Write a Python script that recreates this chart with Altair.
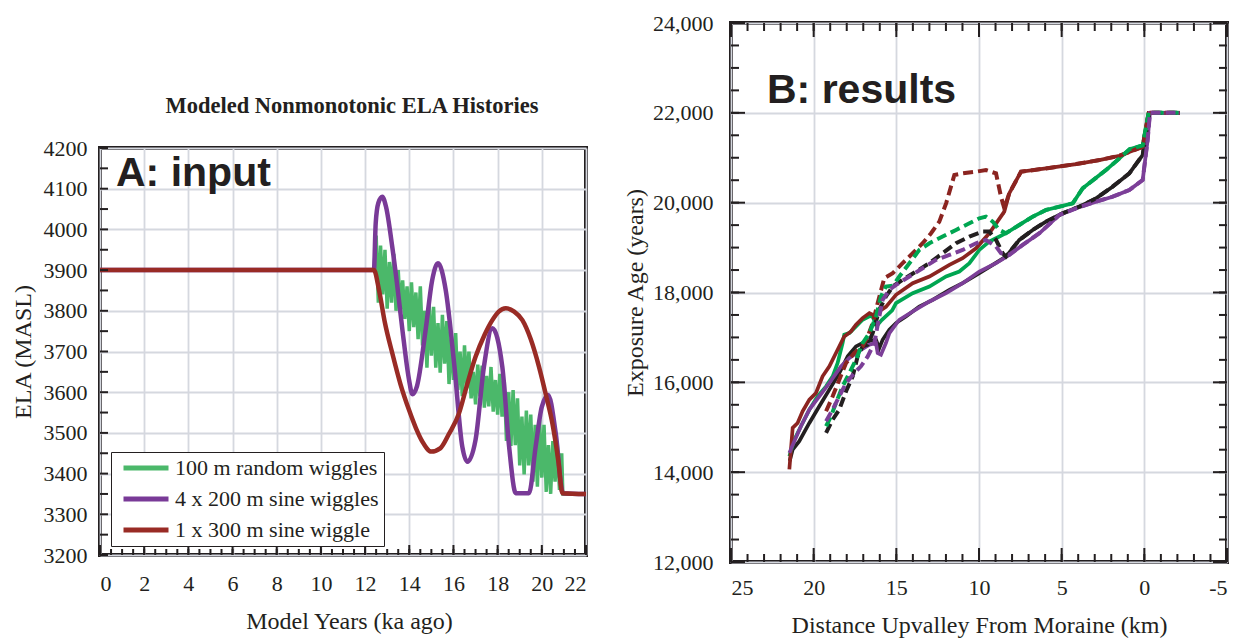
import altair as alt
import pandas as pd

# ---------------- Panel A : input ELA histories ----------------
A_TITLE = "Modeled Nonmonotonic ELA Histories"
A_LABEL = "A: input"
A_SERIES = ["100 m random wiggles", "4 x 200 m sine wiggles", "1 x 300 m sine wiggle"]
A_COLORS = ["#4bb86a", "#793a97", "#992b25"]
A_X_TICKS = [0, 2, 4, 6, 8, 10, 12, 14, 16, 18, 20, 22]
A_Y_TICKS = [3200, 3300, 3400, 3500, 3600, 3700, 3800, 3900, 4000, 4100, 4200]
A_X_MINOR = [i * 0.5 for i in range(45)]
A_Y_MINOR = [3200 + i * 50 for i in range(21)]

A_GREEN_X = [0, 12.4, 12.5, 12.6, 12.7, 12.8, 12.9, 13.0, 13.1, 13.2, 13.3, 13.4, 13.5, 13.6,
             13.7, 13.8, 13.9, 14.0, 14.1, 14.2, 14.3, 14.4, 14.5, 14.6, 14.7, 14.8, 14.9,
             15.0, 15.1, 15.2, 15.3, 15.4, 15.5, 15.6, 15.7, 15.8, 15.9, 16.0, 16.1, 16.2,
             16.3, 16.4, 16.5, 16.6, 16.7, 16.8, 16.9, 17.0, 17.1, 17.2, 17.3, 17.4, 17.5,
             17.6, 17.7, 17.8, 17.9, 18.0, 18.1, 18.2, 18.3, 18.4, 18.5, 18.6, 18.7, 18.8,
             18.9, 19.0, 19.1, 19.2, 19.3, 19.4, 19.5, 19.6, 19.7, 19.8, 19.9, 20.0, 20.1,
             20.2, 20.3, 20.4, 20.5, 20.6, 20.7, 20.8, 20.9, 20.95, 22]
A_GREEN_Y = [3900, 3900, 3985, 3820, 3960, 3840, 3950, 3805, 3920, 3820, 3940, 3800, 3900, 3795,
             3875, 3780, 3860, 3750, 3870, 3760, 3845, 3730, 3860, 3715, 3800, 3660, 3815,
             3690, 3810, 3660, 3770, 3648, 3790, 3670, 3775, 3620, 3740, 3630, 3745, 3605,
             3700, 3590, 3715, 3610, 3700, 3585, 3650, 3570, 3668, 3590, 3665, 3562, 3640,
             3565, 3662, 3552, 3630, 3545, 3645, 3540, 3630, 3480, 3600, 3468, 3605, 3470,
             3585, 3420, 3540, 3398, 3555, 3420, 3545, 3380, 3520, 3368, 3532, 3390, 3520,
             3355, 3470, 3350, 3480, 3380, 3470, 3360, 3450, 3350, 3350]

A_PURPLE_X = [0, 12.4, 12.48, 12.6, 12.78, 12.95, 13.23, 13.46, 13.69, 13.99, 14.14, 14.35,
              14.74, 15.04, 15.3, 15.65, 16.03, 16.4, 16.63, 17.0, 17.38, 17.76, 18.21, 18.52,
              18.82, 19.42, 19.72, 20.0, 20.29, 20.63, 20.96, 22]
A_PURPLE_Y = [3900, 3900, 4015, 4065, 4080, 4055, 3957, 3860, 3753, 3630, 3595, 3615,
              3753, 3876, 3917, 3851, 3671, 3466, 3429, 3483, 3663, 3757, 3663, 3466,
              3352, 3352, 3466, 3564, 3593, 3499, 3352, 3350]

A_RED_X = [0, 12.4, 12.63, 12.9, 13.23, 13.6, 13.99, 14.3, 14.6, 15.0, 15.4, 15.8, 16.25,
           16.6, 17.0, 17.4, 17.76, 18.05, 18.37, 18.75, 19.12, 19.5, 19.87, 20.2, 20.48,
           20.75, 20.93, 22]
A_RED_Y = [3900, 3900, 3851, 3770, 3696, 3620, 3556, 3512, 3478, 3454, 3462, 3498, 3548,
           3615, 3687, 3740, 3777, 3798, 3806, 3798, 3777, 3730, 3663, 3590, 3523,
           3430, 3352, 3350]

# ---------------- Panel B : results ----------------
B_LABEL = "B: results"
B_X_TICKS = [25, 20, 15, 10, 5, 0, -5]
B_Y_TICKS = [12000, 14000, 16000, 18000, 20000, 22000, 24000]
B_X_MINOR = list(range(-5, 26))
B_Y_MINOR = [12000 + i * 500 for i in range(25)]

B_RED_X = [21.47, 21.27, 20.97, 20.67, 20.26, 19.86, 19.46, 19.05, 18.65, 18.15, 17.74, 17.44,
           17.04, 16.63, 16.35, 16.05, 15.63, 15.02, 14.01, 13.0, 11.79, 10.99, 10.18, 9.38,
           8.47, 8.17, 7.46, 5.95, 4.13, 2.72, 1.51, 0.1, -0.26, -2.15]
B_RED_Y = [14060, 14986, 15096, 15356, 15615, 15763, 16134, 16356, 16652, 17022, 17134, 17282,
           17430, 17541, 17490, 17580, 17680, 17948, 18207, 18356, 18615, 18763, 18985, 19319,
           19800, 20207, 20689, 20763, 20859, 20948, 21044, 21244, 22000, 22000]

B_GREEN_X = [21.47, 21.17, 20.77, 20.26, 19.76, 19.25, 18.85, 18.55, 18.25, 18.15, 17.84, 17.44,
             17.04, 16.63, 16.45, 16.2, 15.9, 15.25, 15.02, 14.01, 13.0, 11.99, 11.19, 10.58,
             9.98, 9.38, 8.97, 8.37, 7.56, 6.75, 5.95, 4.33, 3.73, 2.32, 1.51, 0.88, 0.1,
             -0.26, -2.15]
B_GREEN_Y = [14356, 14726, 15022, 15393, 15689, 15911, 16134, 16430, 16874, 17059, 17096, 17245,
             17393, 17467, 17480, 17250, 17380, 17600, 17763, 17985, 18133, 18356, 18467, 18652,
             18948, 19133, 19207, 19319, 19504, 19689, 19837, 19985, 20319, 20726, 20985, 21192,
             21277, 22000, 22000]

B_BLACK_X = [21.45, 21.27, 20.87, 20.26, 19.66, 19.05, 18.45, 17.94, 17.44, 17.04, 16.5, 16.23,
             16.03, 15.83, 15.42, 15.02, 14.42, 13.61, 12.8, 11.79, 10.99, 9.98, 9.17, 8.37,
             7.56, 6.75, 5.95, 4.94, 3.93, 2.92, 1.92, 0.91, 0.1, -0.3, -2.15]
B_BLACK_Y = [14250, 14504, 14689, 15096, 15467, 15837, 16208, 16578, 16800, 16874, 16930, 16948,
             16763, 16948, 17170, 17319, 17467, 17689, 17837, 18059, 18207, 18430, 18615, 18800,
             19170, 19393, 19578, 19763, 19911, 20096, 20356, 20652, 21059, 22000, 22000]

B_PURPLE_X = [21.47, 21.17, 20.77, 20.26, 19.66, 19.05, 18.35, 17.84, 17.24, 16.63, 16.23, 16.13,
              15.93, 15.63, 15.42, 14.82, 14.01, 13.0, 11.99, 10.99, 9.98, 8.97, 8.17, 7.36,
              6.35, 5.14, 4.13, 2.92, 1.92, 0.91, 0.1, -0.2, -0.34, -2.15]
B_PURPLE_Y = [14430, 14689, 15022, 15393, 15689, 15985, 16356, 16541, 16700, 16837, 16874, 16652,
              16615, 16874, 17096, 17393, 17578, 17800, 17985, 18207, 18467, 18652, 18837, 19059,
              19319, 19726, 19874, 20022, 20133, 20282, 20504, 21393, 22000, 22000]

B_RED_D_X = [19.25, 18.85, 18.45, 18.04, 17.54, 17.04, 16.73, 16.43, 16.13, 15.73, 15.22, 14.62,
             14.01, 13.41, 12.9, 12.4, 11.99, 11.49, 10.99, 10.18, 9.58, 8.97, 8.67, 8.47,
             8.17, 7.46, 5.95, 4.13, 2.72, 1.51, 0.1, -0.26, -2.15]
B_RED_D_Y = [15356, 15689, 16059, 16430, 16652, 16800, 17022, 17319, 17763, 18319, 18430, 18652,
             18874, 19096, 19319, 19578, 19985, 20615, 20652, 20689, 20726, 20652, 20133, 19874,
             20207, 20689, 20763, 20859, 20948, 21044, 21244, 22000, 22000]

B_GREEN_D_X = [19.25, 18.95, 18.65, 18.25, 17.84, 17.44, 17.04, 16.63, 16.23, 15.93, 15.63, 15.22,
               14.82, 14.21, 13.61, 13.0, 12.2, 11.39, 10.58, 9.98, 9.58, 9.17, 8.77, 8.37,
               7.56, 6.75, 5.95, 4.33, 3.73, 2.32, 1.51, 0.88, 0.1, -0.26, -2.15]
B_GREEN_D_Y = [15022, 15245, 15541, 15911, 16208, 16504, 16874, 17096, 17467, 17911, 18133, 18148,
               18356, 18652, 18948, 19096, 19245, 19393, 19541, 19652, 19689, 19578, 19393, 19319,
               19504, 19689, 19837, 19985, 20319, 20726, 20985, 21192, 21277, 22000, 22000]

B_BLACK_D_X = [19.25, 18.85, 18.45, 18.04, 17.64, 17.34, 17.04, 16.73, 16.43, 16.03, 15.63, 15.22,
               14.62, 13.81, 13.0, 12.2, 11.39, 10.58, 9.78, 9.38, 8.97, 8.57, 8.37, 7.56, 6.75,
               5.95, 4.94, 3.93, 2.92, 1.92, 0.91, 0.1, -0.3, -2.15]
B_BLACK_D_Y = [14874, 15170, 15393, 15800, 16134, 16578, 16800, 16837, 17096, 17615, 17911, 18133,
               18282, 18467, 18652, 18874, 19096, 19245, 19356, 19356, 19170, 18874, 18800, 19170,
               19393, 19578, 19763, 19911, 20096, 20356, 20652, 21059, 22000, 22000]

B_PURPLE_D_X = [19.25, 18.85, 18.45, 18.04, 17.54, 17.14, 16.73, 16.33, 16.03, 15.83, 15.42, 15.02,
                14.21, 13.41, 12.6, 11.79, 10.99, 10.18, 9.58, 8.97, 8.67, 8.17, 7.36, 6.35,
                5.14, 4.13, 2.92, 1.92, 0.91, 0.1, -0.2, -0.34, -2.15]
B_PURPLE_D_Y = [15133, 15393, 15689, 15985, 16208, 16356, 16578, 16874, 17467, 17837, 18059, 18170,
                18356, 18541, 18726, 18837, 18948, 19096, 19170, 19022, 18874, 18837, 19059, 19319,
                19726, 19874, 20022, 20133, 20282, 20504, 21393, 22000, 22000]

B_RED = "#8b2420"
B_GREEN = "#00a651"
B_BLACK = "#231f20"
B_PURPLE = "#7c3f98"

INK = "#231f20"
SERIF = "Liberation Serif"
SANS = "Liberation Sans"

W_A, H_A = 486, 407
W_B, H_B = 496, 539


def frame(xs, ys, name=None):
    d = pd.DataFrame({"x": xs, "y": ys})
    if name is not None:
        d["series"] = name
    return d


# ---------- Panel A ----------
xA = alt.X("x:Q", scale=alt.Scale(domain=[0, 22], nice=False, zero=False),
           axis=alt.Axis(values=A_X_TICKS, title="Model Years (ka ago)", format="d",
                         labelPadding=18, titlePadding=15, titleX=249))
yA = alt.Y("y:Q", scale=alt.Scale(domain=[3200, 4200], nice=False, zero=False),
           axis=alt.Axis(values=A_Y_TICKS, title="ELA (MASL)", format="d",
                         labelPadding=13, titlePadding=8))
cA = alt.Color("series:N", scale=alt.Scale(domain=A_SERIES, range=A_COLORS),
               legend=alt.Legend(title=None, orient="none", legendX=11, legendY=429,
                                 fillColor="white", strokeColor=INK, padding=5,
                                 symbolType="stroke", symbolSize=2025, symbolStrokeWidth=5,
                                 labelFont=SERIF, labelFontSize=22, labelColor=INK,
                                 rowPadding=9, clipHeight=22, labelOffset=4,
                                 symbolOffset=5, labelLimit=400))

a_layers = []
for name, xs, ys, interp, sw in [(A_SERIES[0], A_GREEN_X, A_GREEN_Y, "linear", 3.5),
                                 (A_SERIES[1], A_PURPLE_X, A_PURPLE_Y, "monotone", 4.5),
                                 (A_SERIES[2], A_RED_X, A_RED_Y, "monotone", 4.5)]:
    a_layers.append(alt.Chart(frame(xs, ys, name)).mark_line(strokeWidth=sw, interpolate=interp)
                    .encode(x=xA, y=yA, color=cA))

a_left_ticks = alt.Chart(pd.DataFrame({"y": A_Y_MINOR})).mark_rule(color=INK, strokeWidth=2).encode(
    y=yA, x=alt.value(0), x2=alt.value(8))
a_bot_minor = alt.Chart(pd.DataFrame({"x": A_X_MINOR})).mark_rule(color=INK, strokeWidth=2).encode(
    x=xA, y=alt.value(H_A), y2=alt.value(H_A - 6))
a_bot_major = alt.Chart(pd.DataFrame({"x": A_X_TICKS})).mark_rule(color=INK, strokeWidth=2).encode(
    x=xA, y=alt.value(H_A), y2=alt.value(H_A - 10))
a_label = alt.Chart(pd.DataFrame({"t": [A_LABEL]})).mark_text(
    font=SANS, fontSize=41, fontWeight="bold", color=INK, align="left", baseline="alphabetic"
).encode(x=alt.value(16), y=alt.value(38), text="t:N")

panel_a = alt.layer(*a_layers, a_left_ticks, a_bot_minor, a_bot_major, a_label).properties(
    width=W_A, height=H_A)

title_a = alt.Chart(pd.DataFrame({"t": [A_TITLE]})).mark_text(
    font=SERIF, fontSize=22.5, fontWeight="bold", color=INK, align="center", baseline="alphabetic"
).encode(x=alt.value(252), y=alt.value(90), text="t:N").properties(
    width=W_A, height=87, view=alt.ViewBackground(strokeWidth=0, stroke="transparent"))

left = alt.vconcat(title_a, panel_a, spacing=17)

# ---------- Panel B ----------
xB = alt.X("x:Q", scale=alt.Scale(domain=[25, -5], nice=False, zero=False),
           axis=alt.Axis(values=B_X_TICKS, title="Distance Upvalley From Moraine (km)",
                         labelExpr="'' + datum.value", labelPadding=15, titlePadding=15))
yB = alt.Y("y:Q", scale=alt.Scale(domain=[12000, 24000], nice=False, zero=False),
           axis=alt.Axis(values=B_Y_TICKS, title="Exposure Age (years)", format=",d",
                         labelPadding=18, titlePadding=5))

b_layers = []
for xs, ys, col, dashed in [(B_BLACK_X, B_BLACK_Y, B_BLACK, False),
                            (B_GREEN_X, B_GREEN_Y, B_GREEN, False),
                            (B_RED_X, B_RED_Y, B_RED, False),
                            (B_PURPLE_X, B_PURPLE_Y, B_PURPLE, False),
                            (B_BLACK_D_X, B_BLACK_D_Y, B_BLACK, True),
                            (B_RED_D_X, B_RED_D_Y, B_RED, True),
                            (B_GREEN_D_X, B_GREEN_D_Y, B_GREEN, True),
                            (B_PURPLE_D_X, B_PURPLE_D_Y, B_PURPLE, True)]:
    if dashed:
        mk = alt.Chart(frame(xs, ys)).mark_line(color=col, strokeWidth=4, strokeDash=[10, 5])
    else:
        mk = alt.Chart(frame(xs, ys)).mark_line(color=col, strokeWidth=3.7)
    b_layers.append(mk.encode(x=xB, y=yB))

tick_style = dict(color=INK, strokeWidth=2)
b_ticks = [
    alt.Chart(pd.DataFrame({"y": B_Y_MINOR})).mark_rule(**tick_style).encode(
        y=yB, x=alt.value(0), x2=alt.value(8)),
    alt.Chart(pd.DataFrame({"y": B_Y_TICKS})).mark_rule(**tick_style).encode(
        y=yB, x=alt.value(0), x2=alt.value(14)),
    alt.Chart(pd.DataFrame({"y": B_Y_MINOR})).mark_rule(**tick_style).encode(
        y=yB, x=alt.value(W_B), x2=alt.value(W_B - 8)),
    alt.Chart(pd.DataFrame({"y": B_Y_TICKS})).mark_rule(**tick_style).encode(
        y=yB, x=alt.value(W_B), x2=alt.value(W_B - 14)),
    alt.Chart(pd.DataFrame({"x": B_X_MINOR})).mark_rule(**tick_style).encode(
        x=xB, y=alt.value(0), y2=alt.value(8)),
    alt.Chart(pd.DataFrame({"x": B_X_TICKS})).mark_rule(**tick_style).encode(
        x=xB, y=alt.value(0), y2=alt.value(14)),
    alt.Chart(pd.DataFrame({"x": B_X_MINOR})).mark_rule(**tick_style).encode(
        x=xB, y=alt.value(H_B), y2=alt.value(H_B - 8)),
    alt.Chart(pd.DataFrame({"x": B_X_TICKS})).mark_rule(**tick_style).encode(
        x=xB, y=alt.value(H_B), y2=alt.value(H_B - 14)),
]
b_label = alt.Chart(pd.DataFrame({"t": [B_LABEL]})).mark_text(
    font=SANS, fontSize=41, fontWeight="bold", color=INK, align="left", baseline="alphabetic"
).encode(x=alt.value(36), y=alt.value(80), text="t:N")

panel_b = alt.layer(*b_layers, *b_ticks, b_label).properties(width=W_B, height=H_B)

chart = alt.hconcat(left, panel_b, spacing=24).properties(
    padding={"left": 9, "top": 10, "right": 5, "bottom": 5}, background="white"
).configure_view(
    stroke=INK, strokeWidth=4
).configure_axis(
    domain=False, ticks=False, grid=True, gridColor="#d5d8df", gridWidth=1.8,
    labelFont=SERIF, labelFontSize=22, labelColor=INK,
    titleFont=SERIF, titleFontSize=24, titleFontWeight="normal", titleColor=INK
)

chart.save("out.html", embed_options={"renderer": "svg", "actions": False})
